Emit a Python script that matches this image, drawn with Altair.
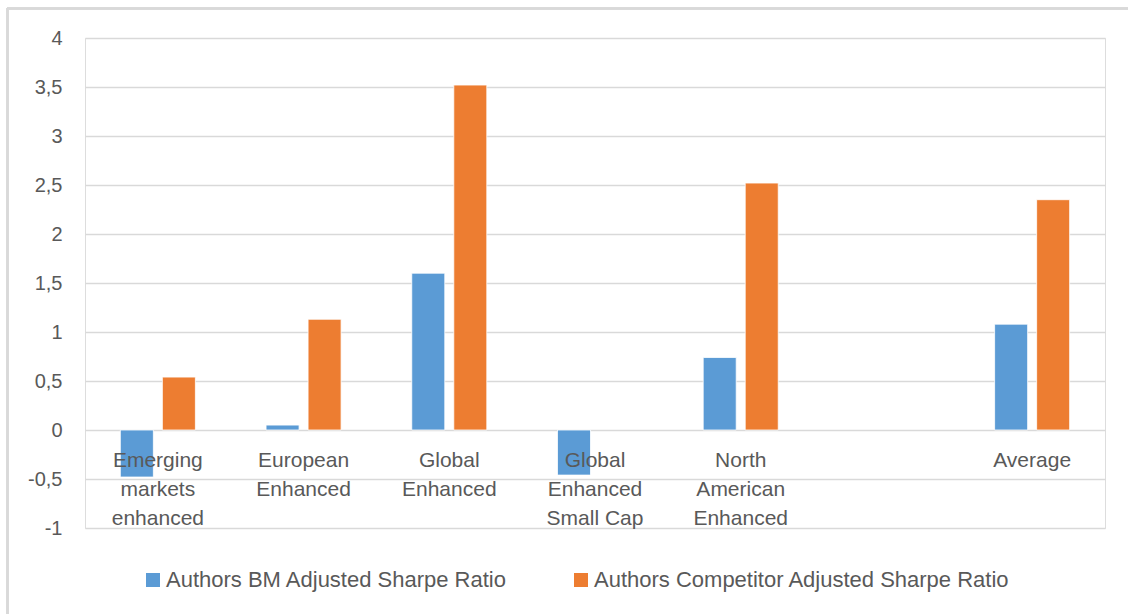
import altair as alt
import pandas as pd

# Categories (the blank slot keeps the gap before "Average")
categories = [
    "Emerging markets enhanced",
    "European Enhanced",
    "Global Enhanced",
    "Global Enhanced Small Cap",
    "North American Enhanced",
    " ",
    "Average",
]
label_lines = [
    "Emerging\nmarkets\nenhanced",
    "European\nEnhanced",
    "Global\nEnhanced",
    "Global\nEnhanced\nSmall Cap",
    "North\nAmerican\nEnhanced",
    "",
    "Average",
]
series_names = [
    "Authors BM Adjusted Sharpe Ratio",
    "Authors Competitor Adjusted Sharpe Ratio",
]
bm_values = [-0.48, 0.05, 1.60, -0.46, 0.74, None, 1.08]
competitor_values = [0.54, 1.13, 3.52, None, 2.52, None, 2.35]
y_ticks = [-1, -0.5, 0, 0.5, 1, 1.5, 2, 2.5, 3, 3.5, 4]

colors = ["#5B9BD5", "#ED7D31"]
text_color = "#595959"
grid_color = "#D9D9D9"
font = "Liberation Sans"

rows = []
for cat, b, c in zip(categories, bm_values, competitor_values):
    if b is not None:
        rows.append({"category": cat, "series": series_names[0], "value": b})
    if c is not None:
        rows.append({"category": cat, "series": series_names[1], "value": c})
bars_df = pd.DataFrame(rows)
labels_df = pd.DataFrame({"category": categories, "label": label_lines})

x_scale = alt.Scale(domain=categories, paddingInner=0.485, paddingOuter=0.2425)
y_scale = alt.Scale(domain=[-1, 4], nice=False, zero=False)

bars = alt.Chart(bars_df).mark_bar(stroke="white", strokeWidth=0.8).encode(
    x=alt.X("category:N", scale=x_scale, axis=None, sort=categories),
    xOffset=alt.XOffset("series:N", sort=series_names,
                        scale=alt.Scale(paddingInner=0.214, paddingOuter=0)),
    y=alt.Y("value:Q", scale=y_scale,
            axis=alt.Axis(values=y_ticks, title=None, domain=False, ticks=False,
                          grid=True, gridColor=grid_color, gridWidth=1.5,
                          labelPadding=23, labelFont=font, labelFontSize=20,
                          labelColor=text_color,
                          labelExpr="replace(toString(datum.value), '.', ',')")),
    color=alt.Color("series:N", sort=series_names,
                    scale=alt.Scale(domain=series_names, range=colors),
                    legend=alt.Legend(title=None, orient="none", direction="horizontal",
                                      legendX=57, legendY=531, symbolType="square",
                                      symbolSize=196, symbolStrokeWidth=0,
                                      labelFont=font, labelFontSize=22,
                                      labelColor=text_color, labelLimit=600,
                                      labelOffset=2, columnPadding=62)),
)

labels = alt.Chart(labels_df).mark_text(
    baseline="top", align="center", dy=20, lineBreak="\n", lineHeight=29,
    font=font, fontSize=21, color=text_color,
).encode(
    x=alt.X("category:N", scale=x_scale, sort=categories),
    y=alt.datum(0),
    text="label:N",
)

# Chart-area frame: top and left edges
frame_top = alt.Chart(bars_df).mark_rule(color="#D9D9D9", strokeWidth=2).encode(
    x=alt.value(-78), x2=alt.value(1050), y=alt.value(-29.5)
)
frame_left = alt.Chart(bars_df).mark_rule(color="#D9D9D9", strokeWidth=2).encode(
    x=alt.value(-77.5), y=alt.value(-30), y2=alt.value(600)
)

chart = alt.layer(frame_top, frame_left, bars, labels).properties(
    width=1020, height=490,
    padding={"left": 85, "top": 38, "right": 23, "bottom": 86},
    autosize=alt.AutoSizeParams(type="none"),
).configure_view(stroke=None).configure(background="white")

chart.save("out.html", embed_options={"renderer": "svg", "actions": False})
